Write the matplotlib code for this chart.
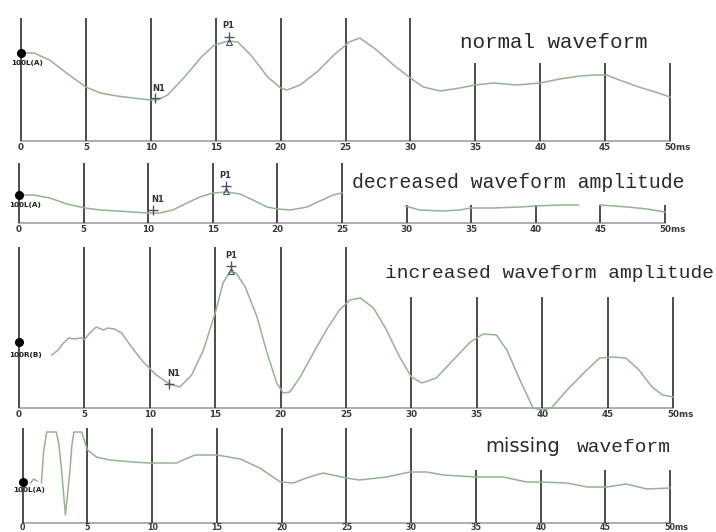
import numpy as np
import matplotlib
matplotlib.use("Agg")
import matplotlib.pyplot as plt

# ---------------- data (time in ms, amplitude in arbitrary units above baseline) ----------------
tick_ms = [0, 5, 10, 15, 20, 25, 30, 35, 40, 45, 50]
tick_labels = ["0", "5", "10", "15", "20", "25", "30", "35", "40", "45", "50ms"]

# panel 1: normal waveform
p1_ms = [0, 1, 2.2, 3.5, 5, 6.1, 7.4, 8.6, 10, 10.5, 11.3, 12.6, 13.9, 14.9, 16, 16.7, 17.7, 19, 20,
         20.5, 21.5, 22.8, 24.1, 25.3, 26.1, 27.4, 28.7, 30, 31, 32.3, 33.8, 35, 36.4, 38.2, 40, 41.5,
         43.1, 44.1, 45.1, 46.1, 47.6, 49.1, 50]
p1_amp = [88, 88, 81, 68, 54, 48, 45, 43, 41, 41, 46, 64, 84, 96, 100, 99, 86, 64, 53,
          51, 56, 69, 86, 99, 103, 91, 76, 63, 54, 50, 53, 56, 58, 56, 58, 62,
          65, 66, 66, 61, 54, 48, 44]
p1_line_top = [123, 123, 123, 123, 123, 123, 123, 78, 78, 78, 78]

# panel 2: decreased waveform amplitude
p2_ms = [0, 1.1, 2.4, 3.7, 5.1, 6.3, 7.6, 8.8, 10, 10.9, 11.9, 13, 14, 15, 16.1, 17.1, 18.1, 19.2, 20,
         21, 22.3, 23.3, 24.3, 25, np.nan, 29.9, 31, 32.8, 34.1, 35, 36.7, 38.8, 40, 41.9, 43.3, np.nan,
         45, 47.1, 48.6, 50]
p2_amp = [28, 28, 25, 19, 15, 13, 12, 11, 10, 10, 13, 20, 26, 30, 31, 29, 23, 16, 14,
          13, 16, 22, 28, 30, np.nan, 17, 13, 12, 13, 15, 15, 16, 17, 18, 18, np.nan,
          18, 16, 14, 11]
p2_line_top = [60, 60, 60, 60, 60, 60, 18, 18, 18, 18, 18]

# panel 3: increased waveform amplitude
p3_ms = [2.5, 3.0, 3.4, 3.8, 4.2, 4.7, 5.05, 5.4, 5.9, 6.45, 6.8, 7.3, 7.85, 8.6, 9.5, 10.5, 11.5, 12.3,
         13.2, 14.1, 15, 15.6, 16.1, 16.6, 17.3, 18.2, 18.9, 19.7, 20.2, 20.7, 21.5, 22.5, 23.5, 24.5,
         25.3, 26.1, 27.1, 28.1, 29.1, 30, 30.8, 31.9, 33.2, 34.5, 35.5, 36.5, 37.3, 38.3, 39.3, 40,
         40.7, 41.9, 43.4, 44.4, 45.4, 46.4, 47.4, 48.4, 49.2, 50]
p3_amp = [53, 58, 65, 70, 69, 70, 69, 75, 81, 78, 80, 79, 75, 61, 46, 33, 24, 21,
          33, 58, 95, 125, 136, 135, 121, 91, 58, 25, 15, 16, 31, 55, 78, 98,
          108, 110, 100, 78, 51, 31, 25, 30, 48, 66, 74, 73, 58, 28, 0, -2,
          0, 18, 38, 50, 51, 50, 38, 21, 13, 11]
p3_line_top = [161, 161, 161, 161, 161, 161, 111, 111, 111, 111, 111]

# panel 4: missing waveform
p4_ms = [0.6, 0.85, 1.1, np.nan, 1.45, 1.6, 1.85, 2.6, 2.8, 3.0, 3.3, 3.65, 3.8, 3.96, 4.55, 5.0, 5.7,
         6.7, 8.5, 9.8, 11.9, 12.4, 13.3, 15.0, 16.8, 18.3, 19.9, 20.9, 21.9, 23.2, 25, 26, 28.1, 29.9,
         31.2, 32.5, 35, 37.1, 38.9, 40, 42, 43.6, 45.1, 46.6, 48.2, 50]
p4_amp = [40, 44, 42, np.nan, 40, 70, 91, 91, 78, 53, 8, 53, 78, 91, 91, 73, 66,
          63, 61, 60, 60, 63, 68, 68, 64, 55, 41, 40, 45, 50, 45, 43, 46, 51,
          51, 48, 46, 46, 41, 41, 40, 36, 36, 39, 34, 35]
p4_line_top = [95, 95, 95, 95, 95, 95, 95, 53, 53, 53, 53]

channel_labels = ["100L(A)", "100L(A)", "100R(B)", "100L(A)"]
channel_dot_amp = [88, 28, 66, 41]
channel_label_amp = [78, 18, 53, 33]

# N1 / P1 peak markers: (ms, amp) per panel
n1_pos = [(10.3, 43), (10.4, 13), (11.5, 24)]
p1_pos = [(16.0, 104), (16.0, 37), (16.2, 142)]

# ---------------- layout (pixels) ----------------
W, H = 716, 532
fig = plt.figure(figsize=(W / 100, H / 100), dpi=100)
fig.patch.set_facecolor("white")

# (top px, bottom px, baseline px, x px of 0 ms, px per ms, tick-label offset)
panels = [
    (0, 158, 141, 21.0, 12.98, -6.5),
    (158, 240, 223, 19.0, 12.92, -6.5),
    (240, 420, 408, 19.0, 13.08, -6.5),
    (420, 532, 523, 22.7, 12.95, -4.8),
]
series = [(p1_ms, p1_amp, p1_line_top), (p2_ms, p2_amp, p2_line_top),
          (p3_ms, p3_amp, p3_line_top), (p4_ms, p4_amp, p4_line_top)]

wave_color = "#97b195"
grid_color = "#3e3e3e"
base_color = "#a8a8a8"
lab_color = "#3a3a3a"

for i, ((top, bot, base, x0, s, loff), (ms, amp, ltop)) in enumerate(zip(panels, series)):
    ax = fig.add_axes([0, 1 - bot / H, 1, (bot - top) / H])
    ax.set_xlim(-x0 / s, (W - x0) / s)
    ax.set_ylim(base - bot, base - top)
    ax.axis("off")
    ax.patch.set_visible(False)

    # vertical time lines
    for t, lt in zip(tick_ms, ltop):
        ax.plot([t, t], [0, lt], color=grid_color, lw=1.3, solid_capstyle="butt", zorder=2)
    # baseline
    ax.plot([0, 50], [0, 0], color=base_color, lw=1.3, zorder=1)
    # tick labels
    fs = 6.3 if i < 3 else 5.8
    for t, lab in zip(tick_ms, tick_labels):
        if lab.endswith("ms"):
            ax.text(t - 0.45, loff, lab, ha="left", va="center", fontsize=fs,
                    fontweight="bold", color=lab_color, family="DejaVu Sans")
        else:
            ax.text(t, loff, lab, ha="center", va="center", fontsize=fs,
                    fontweight="bold", color=lab_color, family="DejaVu Sans")
    # waveform
    ax.plot(ms, amp, color=wave_color, lw=1.1, zorder=3)
    # channel dot + label
    ax.plot([0], [channel_dot_amp[i]], marker="o", ms=5.5, color="black", zorder=4)
    ax.text(-0.75, channel_label_amp[i], channel_labels[i], ha="left", va="center",
            fontsize=5.2, fontweight="bold", color="#222222", zorder=5)
    # N1 / P1 markers
    if i < 3:
        nx, ny = n1_pos[i]
        px, py = p1_pos[i]
        ax.plot([nx], [ny], marker="+", ms=7, mew=1.0, color="#4a5568", zorder=5)
        ax.plot([px], [py], marker="+", ms=7, mew=1.0, color="#4a5568", zorder=5)
        ax.plot([px], [py - 5], marker="^", ms=4, mfc="none", mew=0.8, color="#4a5568", zorder=5)
        ax.text(nx + 0.3, ny + 10, "N1", ha="center", va="center", fontsize=6,
                fontweight="bold", color="#333333")
        ax.text(px, py + 11, "P1", ha="center", va="center", fontsize=6,
                fontweight="bold", color="#333333")

# annotation texts
mono = "Liberation Mono"
fig.text(460 / W, 1 - 42 / H, "normal waveform", family=mono, fontsize=15,
         ha="left", va="center", color="#2a2a2a")
fig.text(352 / W, 1 - 182 / H, "decreased waveform amplitude", family=mono, fontsize=14.2,
         ha="left", va="center", color="#2a2a2a")
fig.text(385 / W, 1 - 273 / H, "increased waveform amplitude", family=mono, fontsize=14,
         ha="left", va="center", color="#2a2a2a")
fig.text(485 / W, 1 - 447 / H, "missing", family="DejaVu Sans", fontsize=14,
         ha="left", va="center", color="#2a2a2a")
fig.text(577 / W, 1 - 447 / H, "waveform", family=mono, fontsize=14,
         ha="left", va="center", color="#2a2a2a")

fig.savefig("out.png", dpi=100, facecolor="white")
